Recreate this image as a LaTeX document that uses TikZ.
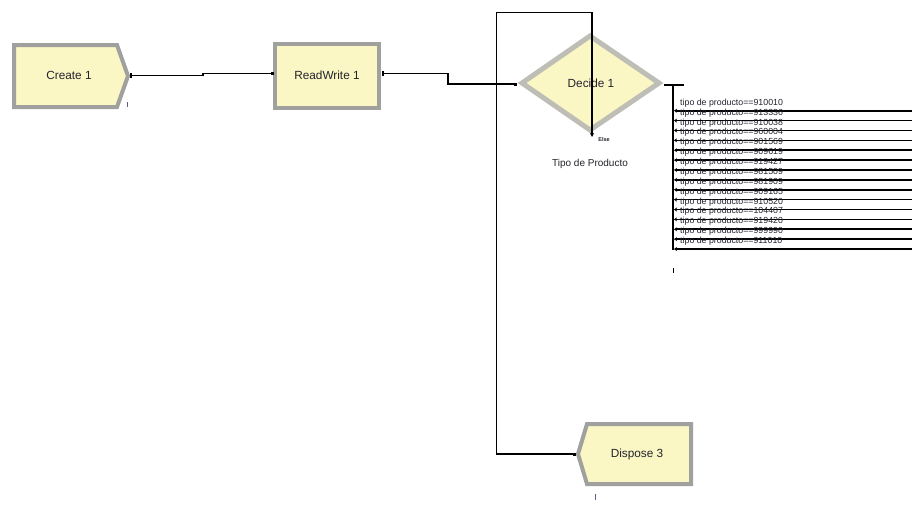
\documentclass[tikz,border=0pt]{standalone}
\usepackage{fontspec}
\setmainfont{Liberation Sans}
\usetikzlibrary{arrows.meta}
\definecolor{modfill}{RGB}{250,247,196}
\definecolor{modedge}{RGB}{160,160,158}
\definecolor{decedge}{RGB}{190,190,182}
\definecolor{txt}{RGB}{35,35,45}
\definecolor{tick}{RGB}{90,100,130}
\begin{document}
\begin{tikzpicture}[x=1pt,y=-1pt,
  modshape/.style={fill=modfill, draw=modedge, line width=4pt, line join=miter},
  decshape/.style={fill=modfill, draw=decedge, line width=5pt, line join=miter},
  modtext/.style={font=\fontsize{11.8}{12}\selectfont, text=txt, inner sep=0pt},
  conn/.style={line width=1.1pt, black},
  branch/.style={line width=1.6pt, black, {Stealth[length=3pt,width=4pt]}-},
  lbl/.style={font=\fontsize{8.8}{9}\selectfont, anchor=west, inner sep=0pt, text=txt},
  dotend/.style={fill=black, inner sep=0pt, minimum size=3pt},
  markbar/.style={line width=1pt, tick}]
\useasboundingbox (0,0) rectangle (912,509);
\fill[white] (0,0) rectangle (912,509);

% module shapes
\draw[modshape] (14,45) -- (117,45) -- (128,76) -- (117,107) -- (14,107) -- cycle;
\draw[modshape] (275,44) rectangle (379,108);
\draw[decshape] (522,83) -- (590,36) -- (659,83) -- (590,130) -- cycle;
\draw[modshape] (587,424) -- (691,424) -- (691,484) -- (587,484) -- (578,454) -- cycle;

% module texts
\node[modtext] (create) at (69,75) {Create 1};
\node[modtext] (readwrite) at (327,75) {ReadWrite 1};
\node[modtext] (decide) at (591,83) {Decide 1};
\node[modtext] (dispose) at (637,454) {Dispose 3};
\node[font=\fontsize{10}{11}\selectfont, text=txt, inner sep=0pt] (tipo) at (590,164) {Tipo de Producto};
\node[font=\fontsize{5.5}{6}\selectfont\bfseries, text=txt, inner sep=0pt] (else) at (604,140) {Else};

% small marks under modules
\draw[markbar] (127,102) -- (127,107);
\draw[markbar] (595,494) -- (595,500);
\draw[markbar, black] (673,268) -- (673,273);

% connection points
\coordinate (createout) at (131,75.5);
\coordinate (rwin) at (272,73.5);
\coordinate (rwout) at (383,73.5);
\coordinate (decin) at (515,84);
\coordinate (elseout) at (592,137);
\coordinate (dispin) at (574,454);
\coordinate (decout) at (664,85);

% Create -> ReadWrite
\draw[conn] ([yshift=-2.5pt]createout) -- ([yshift=2.5pt]createout);
\draw[conn] (createout) -- ++(72,0) |- (rwin);
\node[dotend] (rwindot) at (rwin) {};

% ReadWrite -> Decide
\draw[conn] ([yshift=-2.5pt]rwout) -- ([yshift=2.5pt]rwout);
\draw[conn] (rwout) -- (448,73.5) |- (decin);
\node[dotend] (decindot) at (decin) {};

% Else -> Dispose
\draw[conn, {Stealth[length=4pt,width=4pt]}-] (elseout) -- (592,12.5) -- (496.5,12.5) |- (dispin);
\node[dotend] (dispindot) at (dispin) {};

% Decide branch bus
\draw[conn] (decout) -- (684,85);
\draw[conn] (673,85) -- (673,250);

\foreach \k/\code in {0/910010,1/913336,2/910038,3/960004,4/901569,5/909619,6/919427,7/981509,8/981909,9/909165,10/910520,11/104407,12/919420,13/999990,14/911010}{
  \node[lbl] (lab\k) at (680,{103+\k*9.88}) {tipo de producto==\code};
  \coordinate (bout\k) at (674,{110.7+\k*9.88});
  \draw[branch] (bout\k) -- (912,{110.7+\k*9.88});
}
\end{tikzpicture}
\end{document}
